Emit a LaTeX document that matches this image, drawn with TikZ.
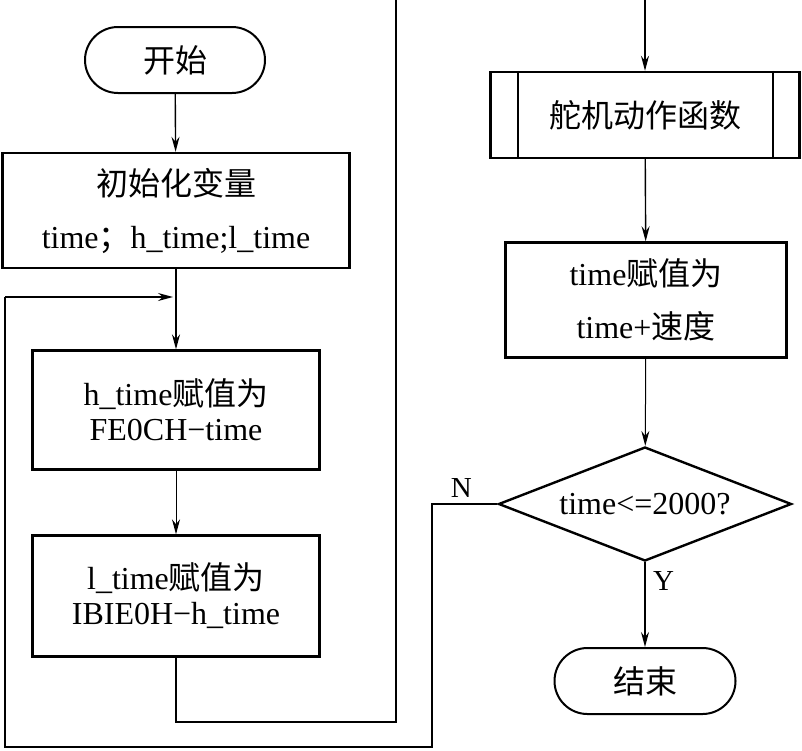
\documentclass[tikz,border=0pt]{standalone}
\usepackage{fontspec}
\setmainfont{Liberation Serif}
\newfontfamily\cjk{Noto Sans CJK SC}
\usetikzlibrary{positioning, arrows.meta, shapes.geometric}

\newcommand{\boxfont}{\fontsize{32}{35}\selectfont}

\begin{document}
\begin{tikzpicture}[
    x=1pt, y=-1pt,
    >={Stealth[length=15pt, width=8pt, inset=5pt]},
    % Blocks
    terminal/.style={
        rectangle, rounded corners=33pt, draw, line width=2pt,
        minimum width=180pt, minimum height=66pt, font=\boxfont
    },
    process/.style={
        rectangle, draw, line width=2.4pt, align=center,
        inner sep=0pt, font=\boxfont
    },
    decision/.style={
        diamond, draw, line width=2.4pt, aspect=2.57, inner sep=0pt,
        minimum width=293pt, minimum height=114pt, font=\boxfont
    },
    % Lines
    flow/.style={line width=1.4pt},
    thinflow/.style={line width=1pt},
    yn_text/.style={font=\fontsize{29}{30}\selectfont}
]
    \useasboundingbox (0,0) rectangle (802,750);

    % --- LEFT COLUMN ---
    \node[terminal] (start) at (175,60) {\cjk 开始};
    \node[process, minimum width=347pt, minimum height=115pt] (init) at (176,210.5)
        {{\cjk 初始化变量}\\[18pt]time{\cjk ；}h\_time;l\_time};
    \node[process, minimum width=287pt, minimum height=119pt] (hset) at (176,410)
        {h\_time{\cjk 赋值为}\\FE0CH−time};
    \node[process, minimum width=287pt, minimum height=121pt] (lset) at (176,596)
        {l\_time{\cjk 赋值为}\\IBIE0H−h\_time};

    % --- RIGHT COLUMN ---
    \node[process, minimum width=309pt, minimum height=86pt] (servo) at (645,115)
        {\cjk 舵机动作函数};
    \draw[line width=2pt] ([xshift=29pt]servo.north west) -- ([xshift=29pt]servo.south west);
    \draw[line width=2pt] ([xshift=-28pt]servo.north east) -- ([xshift=-28pt]servo.south east);
    \node[process, minimum width=281pt, minimum height=115pt] (tadd) at (646,300)
        {time{\cjk 赋值为}\\[18pt]time+{\cjk 速度}};
    \node[decision] (check) at (645,504) {time<=2000?};
    \node[terminal, minimum width=181pt] (stop) at (645,681) {\cjk 结束};

    % --- HELPER POINTS ---
    \coordinate (join) at (176,297);
    \coordinate (topL) at (396,0);
    \coordinate (topR) at (645,0);

    % --- CONNECTIONS ---
    \draw[->, flow] (start) -- (init);
    \draw[->, flow] (init) -- (hset);
    \draw[->, thinflow] (hset) -- (lset);
    \draw[flow] (lset.south) |- (396,722) -- (topL);
    \draw[->, flow] (topR) -- (servo);
    \draw[->, flow] (servo) -- (tadd);
    \draw[->, thinflow] (tadd) -- (check);
    \draw[->, flow] (check) -- (stop)
        node[pos=0.22, right=4pt, yn_text] {Y};
    \draw[flow] (check.west) -- (432,504)
        node[pos=0.55, above=2pt, yn_text] {N}
        -- (432,747) -- (5,747) -- (5,297);
    \draw[->, flow] (5,297) -- ([xshift=-3pt]join);

\end{tikzpicture}
\end{document}
